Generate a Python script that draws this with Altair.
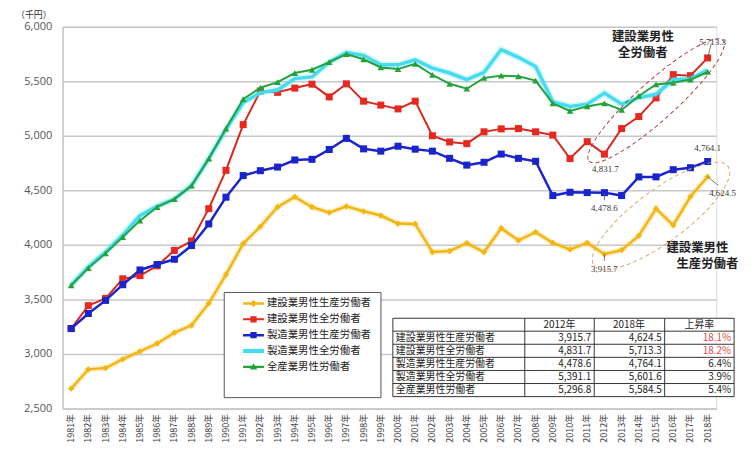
import altair as alt
import pandas as pd

# ---------------- data ----------------
years = [f"{y}年" for y in range(1981, 2019)]

series_names = [
    "建設業男性生産労働者",
    "建設業男性全労働者",
    "製造業男性生産労働者",
    "製造業男性全労働者",
    "全産業男性労働者",
]

const_prod = [2683, 2859, 2871, 2952, 3024, 3096, 3195, 3263, 3464, 3728,
              4012, 4168, 4347, 4440, 4347, 4296, 4353, 4308, 4269, 4195,
              4192, 3934, 3943, 4015, 3934, 4153, 4042, 4117, 4018, 3958,
              4018, 3915.7, 3952, 4084, 4332, 4180, 4443, 4624.5]
const_all = [3233, 3443, 3509, 3689, 3718, 3808, 3949, 4036, 4332, 4683,
             5102, 5410, 5398, 5437, 5473, 5356, 5476, 5317, 5281, 5246,
             5317, 5000, 4943, 4928, 5036, 5063, 5066, 5036, 5006, 4791,
             4946, 4831.7, 5066, 5176, 5347, 5560, 5551, 5713.3]
manu_prod = [3233, 3371, 3491, 3635, 3770, 3820, 3868, 3994, 4192, 4437,
             4635, 4680, 4713, 4778, 4784, 4874, 4976, 4880, 4859, 4904,
             4877, 4859, 4793, 4731, 4757, 4832, 4793, 4766, 4452, 4482,
             4479, 4478.6, 4452, 4623, 4623, 4689, 4707, 4764.1]
manu_all = [3630, 3800, 3935, 4090, 4267, 4355, 4420, 4545, 4790, 5060,
            5305, 5395, 5419, 5524, 5539, 5674, 5763, 5737, 5650, 5650,
            5695, 5620, 5575, 5515, 5581, 5790, 5719, 5635, 5311, 5269,
            5290, 5391.1, 5290, 5350, 5380, 5515, 5521, 5601.6]
all_ind = [3629, 3787, 3922, 4072, 4222, 4347, 4419, 4542, 4790, 5066,
           5335, 5440, 5491, 5575, 5605, 5674, 5749, 5701, 5626, 5611,
           5659, 5557, 5476, 5431, 5530, 5551, 5545, 5506, 5296, 5228,
           5269, 5296.8, 5237, 5365, 5470, 5485, 5515, 5584.5]

all_values = [const_prod, const_all, manu_prod, manu_all, all_ind]

# table
table_cols = ["2012年", "2018年", "上昇率"]
table_2012 = ["3,915.7", "4,831.7", "4,478.6", "5,391.1", "5,296.8"]
table_2018 = ["4,624.5", "5,713.3", "4,764.1", "5,601.6", "5,584.5"]
table_rate = ["18.1%", "18.2%", "6.4%", "3.9%", "5.4%"]

y_ticks = [2500, 3000, 3500, 4000, 4500, 5000, 5500, 6000]

colors = ["#f2b612", "#e8281e", "#1a24cc", "#46dcf0", "#23a23a"]

rows = []
for name, vals in zip(series_names, all_values):
    for yr, v in zip(years, vals):
        rows.append({"year": yr, "value": v, "series": name})
df = pd.DataFrame(rows)

FONT = "Noto Sans CJK JP"

# layout (page pixels)
LEFT, TOP, RIGHT, BOTTOM = 63, 25, 722, 410
W, H = RIGHT - LEFT, BOTTOM - TOP


def PX(x):
    return x - LEFT


def PY(y):
    return y - TOP


x_scale = alt.Scale(domain=years)
x_axis = alt.Axis(labelAngle=270, labelFontSize=9, labelColor="#444",
                  labelFont=FONT, ticks=False, domainColor="#c8c8c8",
                  domainWidth=1.5, labelPadding=5, grid=False, title=None)
y_scale = alt.Scale(domain=[2500, 6000], nice=False, zero=False)
y_axis = alt.Axis(values=y_ticks, labelExpr="format(datum.value, ',')",
                  labelFontSize=11, labelColor="#555",
                  labelFont="Open Sans", ticks=False, labelPadding=11,
                  gridColor="#c8c8c8", gridWidth=1.5,
                  domainColor="#c8c8c8", domainWidth=1.5, title=None)

x_enc = alt.X("year:O", scale=x_scale, axis=x_axis, title=None)
y_enc = alt.Y("value:Q", scale=y_scale, axis=y_axis, title=None)


def xd(v):
    return alt.XDatum(v, type="ordinal", scale=x_scale, axis=x_axis, title=None)


def yd(v):
    return alt.YDatum(v, type="quantitative", scale=y_scale, axis=y_axis, title=None)


one = pd.DataFrame({"k": [0]})


def ptext(s, px, py, **kw):
    return alt.Chart(one).mark_text(**kw).encode(
        x=alt.value(PX(px)), y=alt.value(PY(py)), text=alt.value(s))


def series_chart(i):
    return alt.Chart(df).transform_filter(alt.datum.series == series_names[i])


layers = []

# ---- series lines & markers ----
layers.append(series_chart(0).mark_line(color=colors[0], strokeWidth=6, opacity=0.22).encode(x=x_enc, y=y_enc))
layers.append(series_chart(0).mark_line(color=colors[0], strokeWidth=2.5).encode(x=x_enc, y=y_enc))
layers.append(series_chart(0).mark_point(shape="diamond", filled=True, color=colors[0], size=40, opacity=1).encode(x=x_enc, y=y_enc))
layers.append(series_chart(1).mark_line(color="#d8281e", strokeWidth=2).encode(x=x_enc, y=y_enc))
layers.append(series_chart(1).mark_square(color=colors[1], size=50, opacity=1).encode(x=x_enc, y=y_enc))
layers.append(series_chart(2).mark_line(color=colors[2], strokeWidth=2.5).encode(x=x_enc, y=y_enc))
layers.append(series_chart(2).mark_square(color=colors[2], size=50, opacity=1).encode(x=x_enc, y=y_enc))
layers.append(series_chart(3).mark_line(color=colors[3], strokeWidth=7, opacity=0.22).encode(x=x_enc, y=y_enc))
layers.append(series_chart(3).mark_line(color=colors[3], strokeWidth=3.5).encode(x=x_enc, y=y_enc))
layers.append(series_chart(4).mark_line(color=colors[4], strokeWidth=2).encode(x=x_enc, y=y_enc))
layers.append(series_chart(4).mark_point(shape="triangle-up", filled=True, color=colors[4], size=45, opacity=1).encode(x=x_enc, y=y_enc))


# ---- value labels for 2012 / 2018 ----
def val_label(i, yr, dx, dy):
    return (alt.Chart(df)
            .transform_filter((alt.datum.series == series_names[i]) & (alt.datum.year == yr))
            .mark_text(dx=dx, dy=dy, fontSize=9, font="Liberation Serif", color="#333")
            .encode(x=x_enc, y=y_enc, text=alt.Text("value:Q", format=",.1f")))


layers += [
    val_label(1, "2018年", 5, -16),
    val_label(1, "2012年", 1, 15),
    val_label(2, "2018年", 0, -14),
    val_label(2, "2012年", 0, 16),
    val_label(0, "2018年", 15, 16),
    val_label(0, "2012年", 0, 15),
]

# ---- leader lines ----
rule_kw = dict(color="#555", strokeWidth=0.8)
layers.append(alt.Chart(one).mark_rule(**rule_kw).encode(
    x=xd("2018年"), y=yd(5713.3), x2=alt.value(PX(717)), y2=alt.value(PY(42))))
layers.append(alt.Chart(one).mark_rule(**rule_kw).encode(
    x=xd("2018年"), y=yd(4624.5), x2=alt.value(PX(724)), y2=alt.value(PY(185))))
layers.append(alt.Chart(one).mark_rule(**rule_kw).encode(
    x=xd("2012年"), y=yd(4478.6), y2=alt.value(PY(200))))
layers.append(alt.Chart(one).mark_rule(**rule_kw).encode(
    x=xd("2012年"), y=yd(3915.7), y2=alt.value(PY(261))))

# ---- dashed ellipses ----
ell_red = "M-1,0A1,0.215 0 1,0 1,0A1,0.215 0 1,0 -1,0Z"
ell_yel = "M-1,0A1,0.31 0 1,0 1,0A1,0.31 0 1,0 -1,0Z"
layers.append(alt.Chart(one).mark_point(shape=ell_red, size=33000, angle=318, filled=False,
                                        stroke="#b04040", strokeWidth=1, strokeDash=[4, 3], opacity=1).encode(
    x=xd("2015年"), y=yd(5320)))
layers.append(alt.Chart(one).mark_point(shape=ell_yel, size=28224, angle=323.5, filled=False,
                                        stroke="#d8a870", strokeWidth=1, strokeDash=[4, 3], opacity=1,
                                        xOffset=5).encode(
    x=xd("2015年"), y=yd(4265)))

# ---- annotation texts ----
ann = dict(font=FONT, fontSize=12.5, fontWeight="bold", color="#222", align="center", baseline="middle")
layers.append(ptext("建設業男性", 648, 35, **ann))
layers.append(ptext("全労働者", 648, 52, **ann))
layers.append(ptext("建設業男性", 703, 248, **ann))
layers.append(ptext("生産労働者", 713, 264, **ann))

# unit label
layers.append(ptext("（千円）", 34, 13, font=FONT, fontSize=9, color="#333",
                    align="center", baseline="middle"))

# ---- legend box ----
layers.append(alt.Chart(one).mark_rect(fill="white", stroke="#555", strokeWidth=1).encode(
    x=alt.value(PX(226)), x2=alt.value(PX(384)), y=alt.value(PY(293)), y2=alt.value(PY(399))))

legend_shapes = [
    "M-1,-0.12L1,-0.12L1,0.12L-1,0.12Z M0,-0.34L0.34,0L0,0.34L-0.34,0Z",
    "M-1,-0.1L1,-0.1L1,0.1L-1,0.1Z M-0.3,-0.3L0.3,-0.3L0.3,0.3L-0.3,0.3Z",
    "M-1,-0.12L1,-0.12L1,0.12L-1,0.12Z M-0.3,-0.3L0.3,-0.3L0.3,0.3L-0.3,0.3Z",
    "M-1,-0.2L1,-0.2L1,0.2L-1,0.2Z",
    "M-1,-0.1L1,-0.1L1,0.1L-1,0.1Z M0,-0.36L0.36,0.26L-0.36,0.26Z",
]
leg = alt.Legend(title=None, orient="none", legendX=PX(245), legendY=PY(293.5), padding=0,
                 rowPadding=0, symbolSize=441, symbolStrokeWidth=0, symbolOpacity=1,
                 labelFont=FONT, labelFontSize=10.5, labelColor="#222", labelOffset=3,
                 direction="vertical")
layers.append(alt.Chart(df).transform_filter("false").mark_point(filled=True, opacity=1).encode(
    x=x_enc, y=y_enc,
    color=alt.Color("series:N", scale=alt.Scale(domain=series_names, range=colors), legend=leg),
    shape=alt.Shape("series:N", scale=alt.Scale(domain=series_names, range=legend_shapes), legend=leg),
))

# ---- table ----
layers.append(alt.Chart(one).mark_rect(fill="white", stroke="#333", strokeWidth=1).encode(
    x=alt.value(PX(396)), x2=alt.value(PX(740)), y=alt.value(PY(319)), y2=alt.value(PY(398))))
for yy in [332, 345.2, 358.4, 371.6, 384.8]:
    layers.append(alt.Chart(one).mark_rule(color="#333", strokeWidth=1).encode(
        x=alt.value(PX(396)), x2=alt.value(PX(740)), y=alt.value(PY(yy))))
for xx in [529, 599, 670]:
    layers.append(alt.Chart(one).mark_rule(color="#333", strokeWidth=1).encode(
        x=alt.value(PX(xx)), y=alt.value(PY(319)), y2=alt.value(PY(398))))

tf = dict(font=FONT, fontSize=10, color="#222", baseline="middle")
for cx, lab in zip([564, 634, 705], table_cols):
    layers.append(ptext(lab, cx, 325.5, align="center", **tf))
row_y = [338.6, 351.8, 365, 378.2, 391.4]
for i in range(5):
    layers.append(ptext(series_names[i], 399, row_y[i], align="left", **tf))
    layers.append(ptext(table_2012[i], 596, row_y[i], align="right", **tf))
    layers.append(ptext(table_2018[i], 667, row_y[i], align="right", **tf))
    rate_kw = dict(tf)
    if i < 2:
        rate_kw["color"] = "#e04848"
    layers.append(ptext(table_rate[i], 737, row_y[i], align="right", **rate_kw))

chart = alt.layer(*layers).properties(
    width=W, height=H,
    autosize=alt.AutoSizeParams(type="none"),
    padding={"left": LEFT - 8, "top": TOP - 8, "right": 30, "bottom": 40},
).configure_view(stroke=None).configure(font=FONT)

chart.save("out.html", embed_options={"renderer": "svg", "actions": False})
